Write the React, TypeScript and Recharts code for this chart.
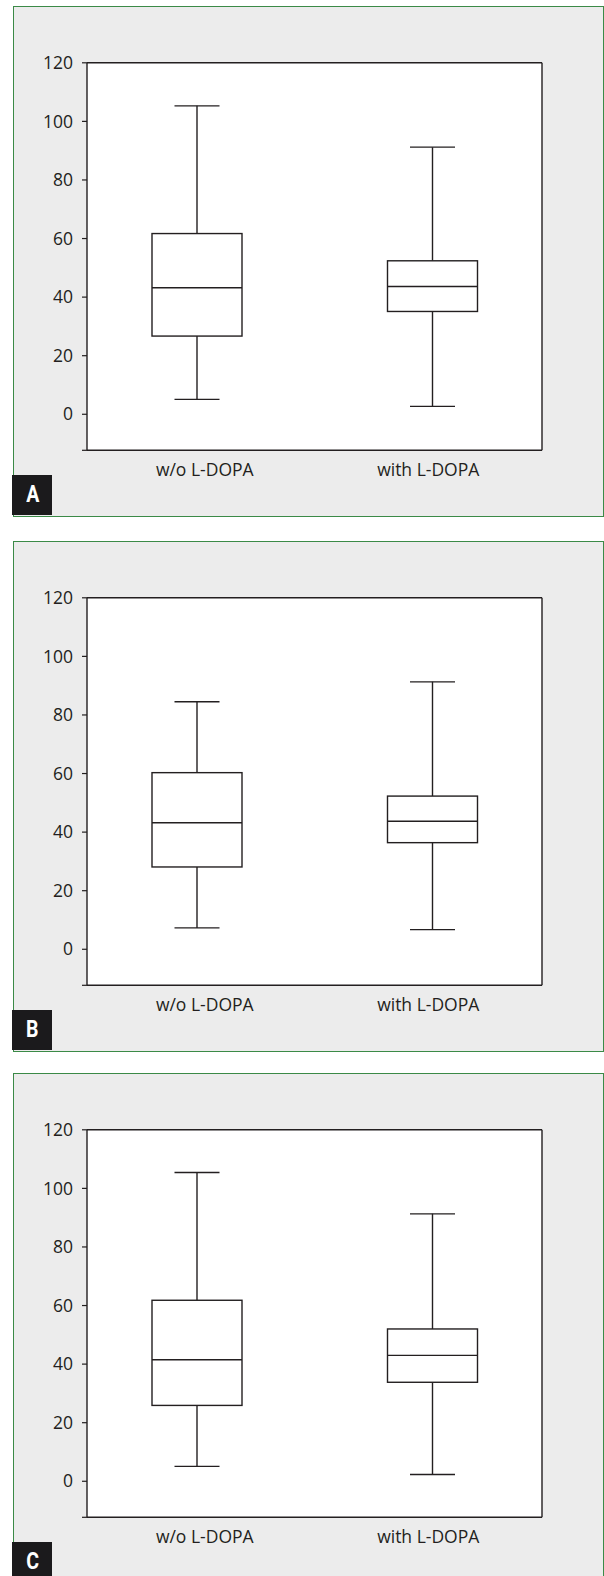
import { ComposedChart, Bar, XAxis, YAxis, CartesianGrid } from 'recharts'

const categories = ['w/o L-DOPA', 'with L-DOPA']
const panelLabels = ['A', 'B', 'C']
const yTicks = [-12.3, 0, 20, 40, 60, 80, 100, 120]

// box plot stats per group
const aMin = [5.1, 2.7]
const aQ1 = [26.7, 35.1]
const aMedian = [43.2, 43.6]
const aQ3 = [61.7, 52.4]
const aMax = [105.3, 91.2]

const bMin = [7.3, 6.7]
const bQ1 = [28.1, 36.4]
const bMedian = [43.2, 43.7]
const bQ3 = [60.3, 52.3]
const bMax = [84.5, 91.3]

const cMin = [5.1, 2.3]
const cQ1 = [25.9, 33.8]
const cMedian = [41.5, 43.0]
const cQ3 = [61.8, 52.0]
const cMax = [105.4, 91.3]

const ink = '#231f20'
const font = '"Open Sans", "DejaVu Sans", sans-serif'

const buildRows = (min: number[], q1: number[], median: number[], q3: number[], max: number[]) =>
  categories.map((name, i) => ({ name, min: min[i], q1: q1[i], median: median[i], q3: q3[i], max: max[i] }))

const panels = [
  { label: panelLabels[0], top: 5.5, rows: buildRows(aMin, aQ1, aMedian, aQ3, aMax) },
  { label: panelLabels[1], top: 540.5, rows: buildRows(bMin, bQ1, bMedian, bQ3, bMax) },
  { label: panelLabels[2], top: 1073, rows: buildRows(cMin, cQ1, cMedian, cQ3, cMax) },
]

function BoxShape(props: any) {
  const { x, y, width, height } = props
  const d = props.payload ?? props
  const k = height / (d.max - d.min)
  const py = (v: number) => y + (d.max - v) * k
  const cx = x + width / 2
  const cap = width / 4
  return (
    <g stroke={ink} strokeWidth={1.4} fill="none">
      <line x1={cx} x2={cx} y1={py(d.max)} y2={py(d.q3)} />
      <line x1={cx} x2={cx} y1={py(d.q1)} y2={py(d.min)} />
      <line x1={cx - cap} x2={cx + cap} y1={py(d.max)} y2={py(d.max)} />
      <line x1={cx - cap} x2={cx + cap} y1={py(d.min)} y2={py(d.min)} />
      <rect x={x} y={py(d.q3)} width={width} height={py(d.q1) - py(d.q3)} fill="#fff" />
      <line x1={x} x2={x + width} y1={py(d.median)} y2={py(d.median)} />
    </g>
  )
}

function BoxPanel({ label, top, rows }: { label: string; top: number; rows: any[] }) {
  return (
    <>
      <div
        style={{
          position: 'absolute',
          left: 12.5,
          top,
          width: 591.5,
          height: 511.5,
          boxSizing: 'border-box',
          background: '#ececec',
          border: '1.5px solid #3b8a47',
        }}
      />
      <div style={{ position: 'absolute', left: 0, top }}>
        <ComposedChart
          width={604}
          height={511}
          data={rows}
          margin={{ top: 55.8, right: 61, bottom: 36.7, left: 27 }}
        >
          <CartesianGrid horizontal={false} vertical={false} fill="#fff" />
          <XAxis xAxisId="box" dataKey="name" hide height={0} padding={{ left: -8, right: -8 }} />
          <XAxis
            xAxisId="lab"
            dataKey="name"
            height={30}
            padding={{ left: 6, right: 2 }}
            axisLine={{ stroke: ink, strokeWidth: 1.4 }}
            tickLine={false}
            tickSize={0}
            tickMargin={13}
            tick={{ fill: ink, fontSize: 17.5, fontFamily: font }}
          />
          <XAxis
            xAxisId="top"
            dataKey="name"
            orientation="top"
            height={1}
            tick={false}
            tickLine={false}
            axisLine={{ stroke: ink, strokeWidth: 1.4 }}
          />
          <YAxis
            yAxisId="left"
            type="number"
            width={60}
            domain={[yTicks[0], 120]}
            ticks={yTicks}
            interval={0}
            allowDataOverflow
            tickFormatter={(v: number) => (v < 0 ? '' : String(v))}
            axisLine={{ stroke: ink, strokeWidth: 1.4 }}
            tickLine={{ stroke: ink, strokeWidth: 1.2 }}
            tickSize={5}
            tickMargin={9}
            tick={{ fill: ink, fontSize: 17.5, fontFamily: font }}
          />
          <YAxis
            yAxisId="right"
            orientation="right"
            type="number"
            width={1}
            domain={[yTicks[0], 120]}
            tick={false}
            tickLine={false}
            axisLine={{ stroke: ink, strokeWidth: 1.4 }}
          />
          <Bar
            xAxisId="box"
            yAxisId="left"
            dataKey={(d: any) => [d.min, d.max]}
            barSize={90}
            shape={<BoxShape />}
            isAnimationActive={false}
          />
        </ComposedChart>
      </div>
      <div
        style={{
          position: 'absolute',
          left: 12.3,
          top: top + 469.2,
          width: 40,
          height: 40.3,
          background: '#1b1a1c',
          color: '#fff',
          fontFamily: 'Roboto, sans-serif',
          fontWeight: 700,
          fontSize: 23,
          lineHeight: '40px',
          textAlign: 'center',
        }}
      >
        <span style={{ display: 'inline-block', transform: 'scaleX(0.85)' }}>{label}</span>
      </div>
    </>
  )
}

export default function App() {
  return (
    <div style={{ position: 'absolute', left: 0, top: 0, width: 604, height: 1576, overflow: 'hidden', background: '#fff' }}>
      {panels.map((p) => (
        <BoxPanel key={p.label} label={p.label} top={p.top} rows={p.rows} />
      ))}
    </div>
  )
}
